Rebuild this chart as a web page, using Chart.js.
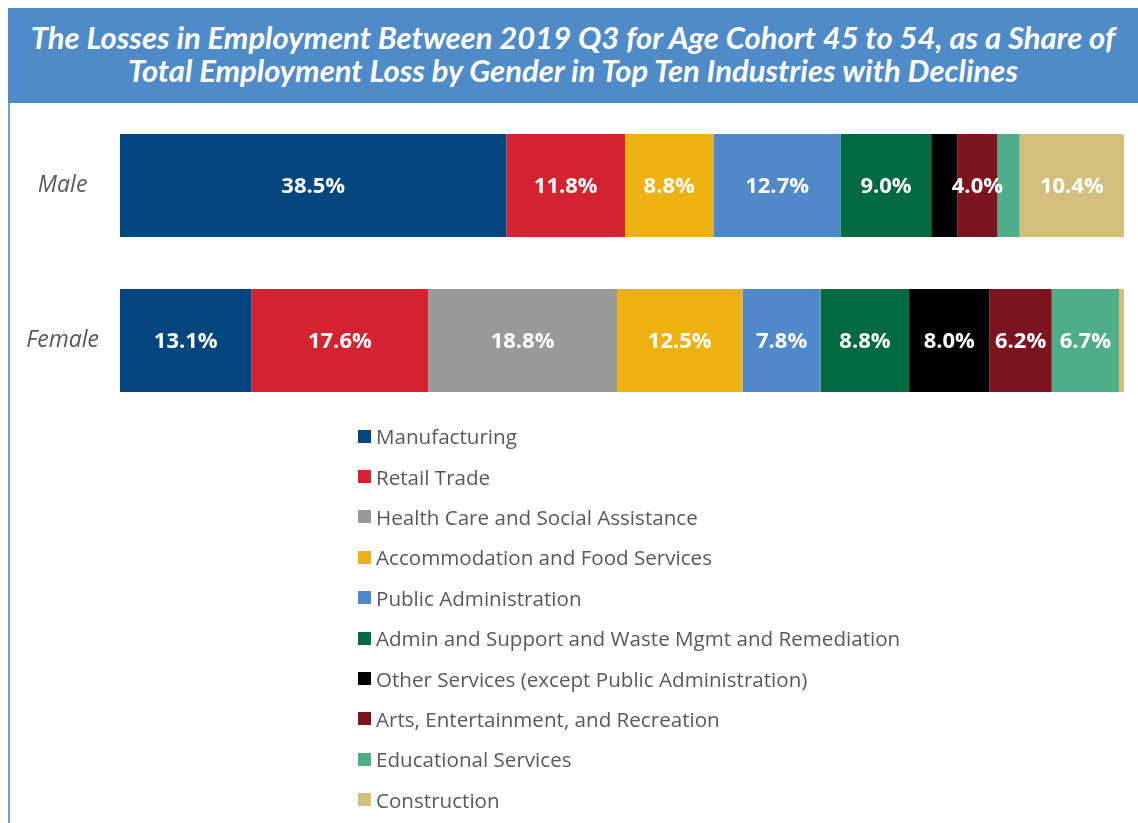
<!DOCTYPE html>
<html>
<head>
<meta charset="utf-8">
<script src="https://cdn.jsdelivr.net/npm/chart.js@4.4.1/dist/chart.umd.min.js"></script>
<style>
  body { margin: 0; background: #fff; width: 1138px; height: 823px; overflow: hidden; position: relative; }
  #banner {
    position: absolute; left: 8px; top: 8px; width: 1130px; height: 95px;
    background: #4f8bc9; color: #fff;
    font-family: Lato, "Open Sans", sans-serif; font-style: italic; font-weight: 700;
    font-size: 31px; line-height: 33px; text-align: center;
    box-sizing: border-box; padding-top: 13px;
  }
  #banner div { white-space: nowrap; }
  #edge { position: absolute; left: 8px; top: 103px; width: 2px; height: 720px; background: #6f9fd6; }
  #share-chart { position: absolute; left: 0; top: 108px; }
  #legend { position: absolute; left: 358px; top: 416px; margin: 0; padding: 0; list-style: none;
    font-family: "Open Sans", sans-serif; font-size: 20.6px; color: #595959; }
  #legend li { height: 40.4px; display: flex; align-items: center; }
  #legend span.box { width: 13px; height: 13px; margin-right: 5px; flex: none; }
</style>
</head>
<body>
<div id="banner">
  <div>The Losses in Employment Between 2019 Q3 for Age Cohort 45 to 54, as a Share of</div>
  <div>Total Employment Loss by Gender in Top Ten Industries with Declines</div>
</div>
<div id="edge"></div>
<canvas id="share-chart" width="1138" height="310"></canvas>
<ul id="legend"></ul>
<script>
// Share of job losses, ages 45-54, by industry //

const genders = ["Male", "Female"];

const industries = [
  "Manufacturing",
  "Retail Trade",
  "Health Care and Social Assistance",
  "Accommodation and Food Services",
  "Public Administration",
  "Admin and Support and Waste Mgmt and Remediation",
  "Other Services (except Public Administration)",
  "Arts, Entertainment, and Recreation",
  "Educational Services",
  "Construction"
];

const industryColors = [
  '#02467f', '#d42230', '#999999', '#edb111', '#4f89c9',
  '#016a3e', '#000000', '#7b141e', '#4dae89', '#d2bf7e'
];

// percent of loss, [male, female] per industry
const manufacturing = [38.5, 13.1];
const retailTrade = [11.8, 17.6];
const healthCare = [0, 18.8];
const accommodation = [8.8, 12.5];
const publicAdmin = [12.7, 7.8];
const adminSupport = [9.0, 8.8];
const otherServices = [2.6, 8.0];
const artsRecreation = [4.0, 6.2];
const educational = [2.2, 6.7];
const construction = [10.4, 0.5];

const seriesValues = [
  manufacturing, retailTrade, healthCare, accommodation, publicAdmin,
  adminSupport, otherServices, artsRecreation, educational, construction
];

const shareData = {
  labels: genders,
  datasets: industries.map((name, i) => ({
    label: name,
    data: seriesValues[i],
    backgroundColor: industryColors[i],
    borderWidth: 0,
    barPercentage: 0.665,
    categoryPercentage: 1
  }))
};

// white % labels in the middle of the wider segments
const valueLabels = {
  id: 'valueLabels',
  afterDatasetsDraw(chart) {
    const ctx = chart.ctx;
    ctx.save();
    ctx.fillStyle = '#ffffff';
    ctx.font = 'bold 22px "Open Sans", sans-serif';
    ctx.textAlign = 'center';
    ctx.textBaseline = 'middle';
    chart.data.datasets.forEach((ds, i) => {
      chart.getDatasetMeta(i).data.forEach((bar, j) => {
        const v = ds.data[j];
        if (v < 3) return;
        const p = bar.getCenterPoint();
        ctx.fillText(v.toFixed(1) + '%', p.x, p.y + 1);
      });
    });
    ctx.restore();
  }
};

const shareOptions = {
  indexAxis: 'y',
  responsive: false,
  animation: { duration: 0 },
  layout: { padding: { left: 0, right: 14, top: 0, bottom: 0 } },
  scales: {
    x: {
      stacked: true,
      display: false,
      min: 0,
      max: 100
    },
    y: {
      stacked: true,
      grid: { display: false, drawTicks: false },
      border: { display: false },
      ticks: {
        color: '#595959',
        padding: 21,
        crossAlign: 'center',
        font: { family: '"Open Sans", sans-serif', size: 23, style: 'italic' }
      },
      afterFit(scale) {
        // fixed label column; no extra top/bottom room for the tick text
        scale.width = 120;
        scale.paddingTop = 0;
        scale.paddingBottom = 0;
      }
    }
  },
  plugins: {
    legend: { display: false },
    tooltip: { enabled: false }
  }
};

const shareChart = new Chart(document.querySelector('#share-chart'), {
  type: 'bar',
  data: shareData,
  options: shareOptions,
  plugins: [valueLabels]
});

// list legend, one industry per row
const legendList = document.querySelector('#legend');
shareChart.data.datasets.forEach(ds => {
  const li = document.createElement('li');
  const box = document.createElement('span');
  box.className = 'box';
  box.style.background = ds.backgroundColor;
  li.appendChild(box);
  li.appendChild(document.createTextNode(ds.label));
  legendList.appendChild(li);
});
</script>
</body>
</html>
